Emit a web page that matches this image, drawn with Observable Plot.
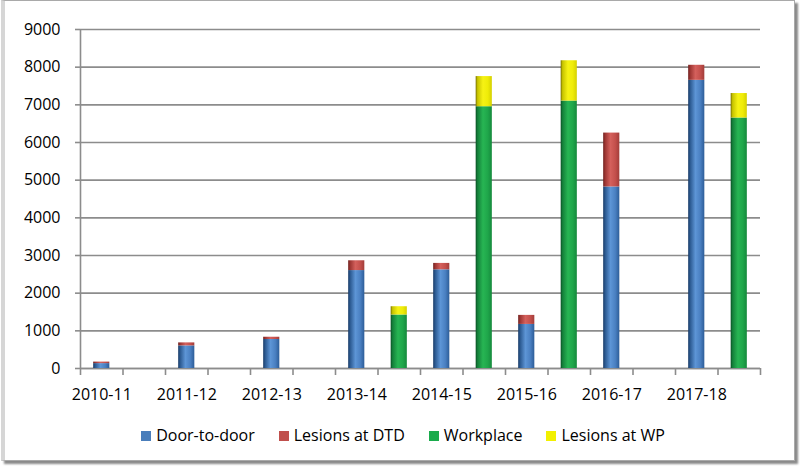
<!DOCTYPE html>
<html>
<head>
<meta charset="utf-8">
<script src="https://cdn.jsdelivr.net/npm/d3@7"></script>
<script src="https://cdn.jsdelivr.net/npm/@observablehq/plot@0.6"></script>
<style>
  html, body { margin: 0; padding: 0; background: #fff; width: 800px; height: 467px; overflow: hidden; }
  #frame { position: absolute; left: 1px; top: 0px; width: 789px; height: 459px;
    border: 1px solid #a9a9a9; border-left: 4px solid #d6d6d6; box-shadow: 3px 3px 2px #8a8a8a; background: #fff; }
  #chart { position: absolute; left: 0; top: 0; }
  #legend { position: absolute; left: 0; top: 424px; width: 806px; display: flex; justify-content: center;
    font-family: "Open Sans", sans-serif; font-size: 16px; color: #000; }
  .item { display: flex; align-items: center; margin: 0 12px; }
  .sw { width: 10px; height: 10px; margin-right: 5px; margin-top: 2px; }
</style>
</head>
<body>
<div id="frame"></div>
<div id="chart"></div>
<div id="legend"></div>
<script>
// Data
const seasons = ["2010-11", "2011-12", "2012-13", "2013-14", "2014-15", "2015-16", "2016-17", "2017-18"];
const doorToDoor = [130, 600, 770, 2600, 2620, 1170, 4820, 7650];
const lesionsDTD = [40, 80, 60, 260, 170, 240, 1430, 400];
const workplace = [0, 0, 0, 1420, 6950, 7100, 0, 6650];
const lesionsWP = [0, 0, 0, 220, 800, 1070, 0, 650];
const seriesNames = ["Door-to-door", "Lesions at DTD", "Workplace", "Lesions at WP"];
const legendColors = ["#4a7ebb", "#c0504d", "#1aab4c", "#f2f000"];
const yTicks = [0, 1000, 2000, 3000, 4000, 5000, 6000, 7000, 8000, 9000];

// Build stacked segments: each season has a DTD slot and a WP slot
const rows = [];
seasons.forEach((s, i) => {
  rows.push({slot: 2 * i, y1: 0, y2: doorToDoor[i], series: seriesNames[0]});
  rows.push({slot: 2 * i, y1: doorToDoor[i], y2: doorToDoor[i] + lesionsDTD[i], series: seriesNames[1]});
  rows.push({slot: 2 * i + 1, y1: 0, y2: workplace[i], series: seriesNames[2]});
  rows.push({slot: 2 * i + 1, y1: workplace[i], y2: workplace[i] + lesionsWP[i], series: seriesNames[3]});
});
const segs = rows.filter(d => d.y2 > d.y1);
const nSlots = seasons.length * 2;

const gradIds = ["gBlue", "gRed", "gGreen", "gYellow"];

const plot = Plot.plot({
  width: 800,
  height: 420,
  marginLeft: 80,
  marginRight: 40,
  marginTop: 29,
  marginBottom: 52,
  style: {fontFamily: "Open Sans, sans-serif", fontSize: "16px", color: "#000", background: "transparent"},
  x: {domain: [0, nSlots]},
  y: {domain: [0, 9000]},
  color: {domain: seriesNames, range: gradIds.map(id => `url(#${id})`)},
  marks: [
    Plot.gridY(yTicks, {stroke: "#8c8c8c", strokeOpacity: 1, strokeWidth: 1.6}),
    Plot.ruleX([0], {y1: 0, y2: 9000, stroke: "#8c8c8c", strokeWidth: 1.6}),
    Plot.ruleY([0], {stroke: "#8c8c8c", strokeWidth: 1.6}),
    Plot.axisY({ticks: yTicks, tickSize: 5, tickPadding: 15, stroke: "#8c8c8c", strokeWidth: 1.6, fill: "#000", tickFormat: d => String(d)}),
    Plot.axisX({ticks: d3.range(0, nSlots + 1), tickSize: 7, tickFormat: () => "", stroke: "#8c8c8c", strokeWidth: 1.6}),
    Plot.axisX({ticks: seasons.map((s, i) => 2 * i + 0.5), tickSize: 0, tickPadding: 20, fill: "#000",
      tickFormat: v => seasons[Math.round((v - 0.5) / 2)]}),
    Plot.rectY(segs, {x1: d => d.slot + 0.31, x2: d => d.slot + 0.69, y1: "y1", y2: "y2", fill: "series"})
  ]
});

// gradients for cylinder shading
const defs = d3.select(plot).insert("defs", ":first-child");
const gradStops = {
  gBlue:   [["0%", "#183a66"], ["12%", "#2b5990"], ["45%", "#5d95d6"], ["75%", "#4a80c2"], ["100%", "#2d5d98"]],
  gRed:    [["0%", "#6e1f1d"], ["12%", "#9c3532"], ["45%", "#d4605c"], ["75%", "#c4504c"], ["100%", "#a23d3a"]],
  gGreen:  [["0%", "#0a4f24"], ["12%", "#14803a"], ["45%", "#27b553"], ["75%", "#1fa64a"], ["100%", "#15893c"]],
  gYellow: [["0%", "#777000"], ["12%", "#c8c400"], ["45%", "#f6f214"], ["75%", "#efec08"], ["100%", "#d4d000"]]
};
for (const id of gradIds) {
  const g = defs.append("linearGradient").attr("id", id).attr("x1", "0").attr("x2", "1").attr("y1", "0").attr("y2", "0");
  for (const [o, c] of gradStops[id]) g.append("stop").attr("offset", o).attr("stop-color", c);
}
document.getElementById("chart").appendChild(plot);

// legend
const legend = d3.select("#legend");
seriesNames.forEach((name, i) => {
  const it = legend.append("div").attr("class", "item");
  it.append("div").attr("class", "sw").style("background", legendColors[i]);
  it.append("span").text(name);
});
</script>
</body>
</html>
